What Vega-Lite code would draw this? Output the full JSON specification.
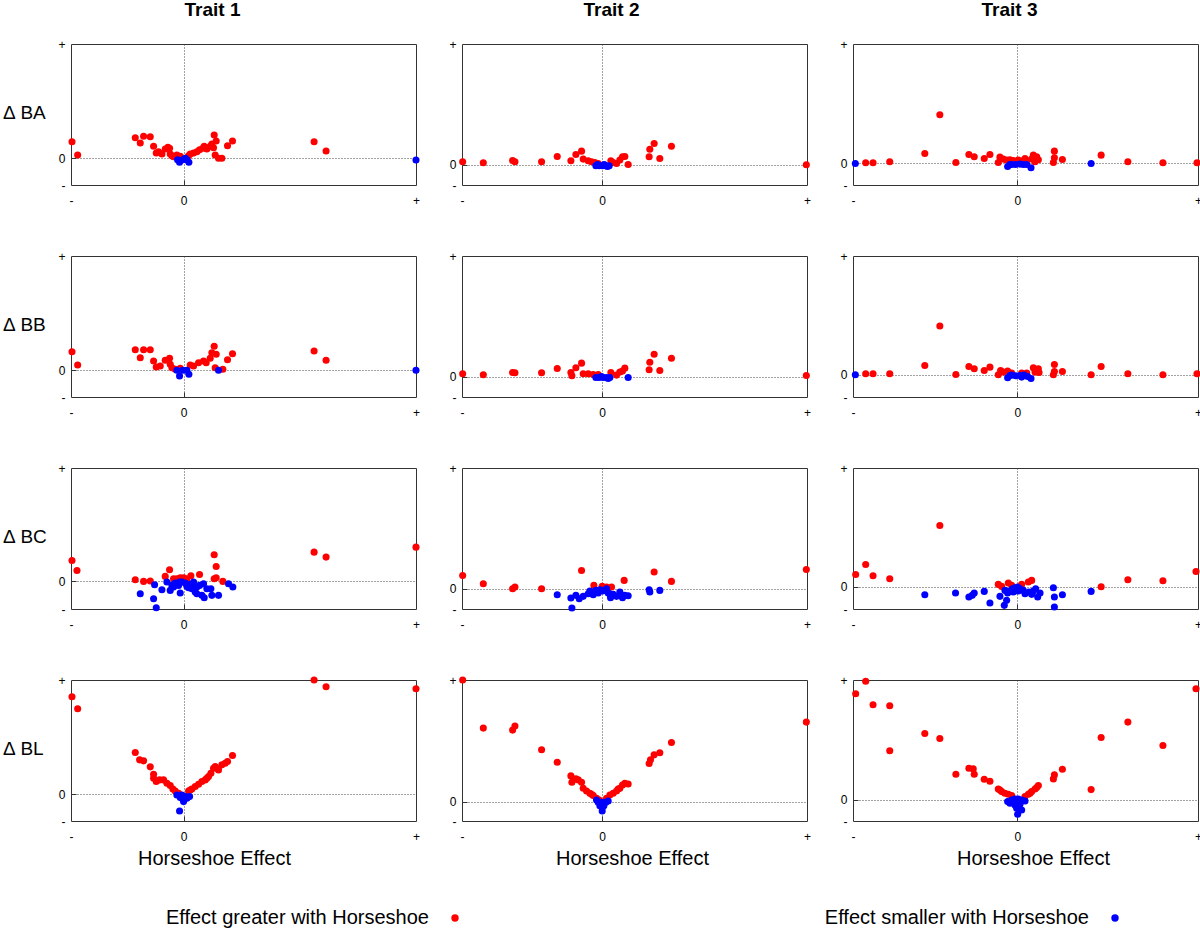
{
"$schema": "https://vega.github.io/schema/vega-lite/v6.json",
"background": "white",
"padding": {"left": 2, "top": 0, "right": 0, "bottom": 4},
"datasets": {
"A1": [
{"x":-3.35,"y":0.50,"g":"G"},{"x":-3.18,"y":0.10,"g":"G"},{"x":-1.45,"y":0.62,"g":"G"},{"x":-1.30,"y":0.46,"g":"G"},{"x":-1.20,"y":0.66,"g":"G"},{"x":-1.00,"y":0.65,"g":"G"},{"x":-0.90,"y":0.36,"g":"G"},{"x":-0.82,"y":0.16,"g":"G"},{"x":-0.75,"y":0.20,"g":"G"},{"x":-0.65,"y":0.13,"g":"G"},{"x":-0.55,"y":0.28,"g":"G"},{"x":-0.47,"y":0.33,"g":"G"},{"x":-0.42,"y":0.30,"g":"G"},{"x":-0.40,"y":0.13,"g":"G"},{"x":-0.35,"y":0.08,"g":"G"},{"x":-0.30,"y":0.05,"g":"G"},{"x":-0.20,"y":0.10,"g":"G"},{"x":-0.10,"y":0.06,"g":"G"},{"x":0.15,"y":0.08,"g":"G"},{"x":0.20,"y":0.13,"g":"G"},{"x":0.30,"y":0.16,"g":"G"},{"x":0.40,"y":0.20,"g":"G"},{"x":0.48,"y":0.26,"g":"G"},{"x":0.58,"y":0.30,"g":"G"},{"x":0.62,"y":0.36,"g":"G"},{"x":0.70,"y":0.28,"g":"G"},{"x":0.80,"y":0.36,"g":"G"},{"x":0.85,"y":0.43,"g":"G"},{"x":0.90,"y":0.32,"g":"G"},{"x":0.92,"y":0.70,"g":"G"},{"x":0.98,"y":0.52,"g":"G"},{"x":0.95,"y":0.10,"g":"G"},{"x":1.05,"y":0.00,"g":"G"},{"x":1.15,"y":0.00,"g":"G"},{"x":1.32,"y":0.38,"g":"G"},{"x":1.47,"y":0.52,"g":"G"},{"x":3.92,"y":0.50,"g":"G"},{"x":4.28,"y":0.22,"g":"G"},
{"x":-0.18,"y":-0.04,"g":"S"},{"x":-0.12,"y":-0.12,"g":"S"},{"x":-0.02,"y":-0.04,"g":"S"},{"x":0.05,"y":0.00,"g":"S"},{"x":0.10,"y":-0.04,"g":"S"},{"x":0.16,"y":-0.12,"g":"S"},{"x":6.98,"y":-0.05,"g":"S"}
],
"B1": [
{"x":-3.35,"y":0.55,"g":"G"},{"x":-3.18,"y":0.15,"g":"G"},{"x":-1.45,"y":0.61,"g":"G"},{"x":-1.30,"y":0.37,"g":"G"},{"x":-1.20,"y":0.61,"g":"G"},{"x":-1.00,"y":0.61,"g":"G"},{"x":-0.90,"y":0.27,"g":"G"},{"x":-0.82,"y":0.09,"g":"G"},{"x":-0.70,"y":0.12,"g":"G"},{"x":-0.55,"y":0.29,"g":"G"},{"x":-0.42,"y":0.35,"g":"G"},{"x":-0.40,"y":0.17,"g":"G"},{"x":-0.35,"y":0.07,"g":"G"},{"x":-0.25,"y":0.02,"g":"G"},{"x":-0.10,"y":0.05,"g":"G"},{"x":0.20,"y":0.15,"g":"G"},{"x":0.30,"y":0.12,"g":"G"},{"x":0.45,"y":0.22,"g":"G"},{"x":0.60,"y":0.27,"g":"G"},{"x":0.68,"y":0.22,"g":"G"},{"x":0.80,"y":0.35,"g":"G"},{"x":0.85,"y":0.52,"g":"G"},{"x":0.92,"y":0.71,"g":"G"},{"x":0.98,"y":0.47,"g":"G"},{"x":0.95,"y":0.07,"g":"G"},{"x":1.18,"y":0.02,"g":"G"},{"x":1.32,"y":0.31,"g":"G"},{"x":1.47,"y":0.49,"g":"G"},{"x":3.92,"y":0.57,"g":"G"},{"x":4.28,"y":0.29,"g":"G"},
{"x":-0.20,"y":-0.01,"g":"S"},{"x":-0.12,"y":-0.18,"g":"S"},{"x":-0.02,"y":-0.01,"g":"S"},{"x":0.10,"y":-0.01,"g":"S"},{"x":0.16,"y":-0.13,"g":"S"},{"x":1.05,"y":-0.01,"g":"S"},{"x":6.98,"y":-0.01,"g":"S"}
],
"C1": [
{"x":-3.35,"y":0.63,"g":"G"},{"x":-3.20,"y":0.33,"g":"G"},{"x":-1.45,"y":0.05,"g":"G"},{"x":-1.20,"y":0.00,"g":"G"},{"x":-1.00,"y":0.01,"g":"G"},{"x":-0.55,"y":0.15,"g":"G"},{"x":-0.42,"y":0.35,"g":"G"},{"x":-0.30,"y":0.08,"g":"G"},{"x":-0.10,"y":0.11,"g":"G"},{"x":0.22,"y":0.17,"g":"G"},{"x":0.48,"y":0.21,"g":"G"},{"x":0.92,"y":0.80,"g":"G"},{"x":0.98,"y":0.45,"g":"G"},{"x":0.92,"y":0.08,"g":"G"},{"x":0.98,"y":0.11,"g":"G"},{"x":1.18,"y":0.00,"g":"G"},{"x":3.92,"y":0.88,"g":"G"},{"x":4.28,"y":0.73,"g":"G"},{"x":6.98,"y":1.03,"g":"G"},{"x":-0.20,"y":0.08,"g":"G"},{"x":0.10,"y":0.08,"g":"G"},{"x":0.00,"y":0.11,"g":"G"},
{"x":-1.30,"y":-0.37,"g":"S"},{"x":-0.90,"y":-0.52,"g":"S"},{"x":-0.82,"y":-0.79,"g":"S"},{"x":-0.87,"y":-0.10,"g":"S"},{"x":-0.65,"y":-0.25,"g":"S"},{"x":-0.50,"y":-0.02,"g":"S"},{"x":-0.40,"y":-0.27,"g":"S"},{"x":-0.35,"y":-0.12,"g":"S"},{"x":-0.25,"y":-0.05,"g":"S"},{"x":-0.15,"y":-0.12,"g":"S"},{"x":-0.10,"y":-0.35,"g":"S"},{"x":-0.05,"y":-0.02,"g":"S"},{"x":0.05,"y":-0.05,"g":"S"},{"x":0.10,"y":-0.15,"g":"S"},{"x":0.15,"y":-0.19,"g":"S"},{"x":0.20,"y":-0.09,"g":"S"},{"x":0.25,"y":-0.22,"g":"S"},{"x":0.30,"y":-0.02,"g":"S"},{"x":0.35,"y":-0.32,"g":"S"},{"x":0.40,"y":-0.17,"g":"S"},{"x":0.48,"y":-0.12,"g":"S"},{"x":0.55,"y":-0.42,"g":"S"},{"x":0.60,"y":-0.07,"g":"S"},{"x":0.62,"y":-0.49,"g":"S"},{"x":0.70,"y":-0.22,"g":"S"},{"x":0.82,"y":-0.22,"g":"S"},{"x":0.85,"y":-0.42,"g":"S"},{"x":1.05,"y":-0.42,"g":"S"},{"x":1.35,"y":-0.07,"g":"S"},{"x":1.48,"y":-0.17,"g":"S"},{"x":-0.12,"y":-0.02,"g":"S"},{"x":-0.30,"y":-0.17,"g":"S"},{"x":0.40,"y":-0.37,"g":"S"},{"x":0.25,"y":-0.12,"g":"S"}
],
"D1": [
{"x":-3.35,"y":2.92,"g":"G"},{"x":-3.18,"y":2.56,"g":"G"},{"x":-1.45,"y":1.25,"g":"G"},{"x":-1.32,"y":1.03,"g":"G"},{"x":-1.20,"y":1.00,"g":"G"},{"x":-1.00,"y":0.82,"g":"G"},{"x":-0.90,"y":0.60,"g":"G"},{"x":-0.82,"y":0.38,"g":"G"},{"x":-0.72,"y":0.43,"g":"G"},{"x":-0.60,"y":0.43,"g":"G"},{"x":-0.50,"y":0.33,"g":"G"},{"x":-0.40,"y":0.26,"g":"G"},{"x":-0.32,"y":0.16,"g":"G"},{"x":-0.25,"y":0.10,"g":"G"},{"x":-0.15,"y":0.03,"g":"G"},{"x":0.15,"y":0.10,"g":"G"},{"x":0.25,"y":0.16,"g":"G"},{"x":0.35,"y":0.23,"g":"G"},{"x":0.45,"y":0.30,"g":"G"},{"x":0.55,"y":0.38,"g":"G"},{"x":0.65,"y":0.43,"g":"G"},{"x":0.75,"y":0.53,"g":"G"},{"x":0.82,"y":0.63,"g":"G"},{"x":0.90,"y":0.78,"g":"G"},{"x":0.95,"y":0.83,"g":"G"},{"x":1.05,"y":0.73,"g":"G"},{"x":1.15,"y":0.88,"g":"G"},{"x":1.25,"y":0.93,"g":"G"},{"x":1.32,"y":0.98,"g":"G"},{"x":1.47,"y":1.16,"g":"G"},{"x":3.92,"y":3.42,"g":"G"},{"x":4.28,"y":3.22,"g":"G"},{"x":6.98,"y":3.16,"g":"G"},{"x":-0.90,"y":0.48,"g":"G"},{"x":0.20,"y":0.13,"g":"G"},{"x":0.70,"y":0.48,"g":"G"},{"x":1.00,"y":0.78,"g":"G"},
{"x":-0.20,"y":-0.02,"g":"S"},{"x":-0.10,"y":-0.10,"g":"S"},{"x":0.00,"y":-0.22,"g":"S"},{"x":0.10,"y":-0.12,"g":"S"},{"x":0.18,"y":-0.07,"g":"S"},{"x":-0.12,"y":-0.50,"g":"S"},{"x":-0.05,"y":-0.02,"g":"S"},{"x":0.05,"y":-0.07,"g":"S"}
],
"A2": [
{"x":-4.19,"y":0.09,"g":"G"},{"x":-3.57,"y":0.06,"g":"G"},{"x":-2.69,"y":0.13,"g":"G"},{"x":-2.62,"y":0.09,"g":"G"},{"x":-1.82,"y":0.09,"g":"G"},{"x":-1.35,"y":0.25,"g":"G"},{"x":-0.94,"y":0.12,"g":"G"},{"x":-0.79,"y":0.31,"g":"G"},{"x":-0.62,"y":0.41,"g":"G"},{"x":-0.57,"y":0.17,"g":"G"},{"x":-0.42,"y":0.12,"g":"G"},{"x":-0.32,"y":0.09,"g":"G"},{"x":-0.22,"y":0.07,"g":"G"},{"x":-0.12,"y":0.04,"g":"G"},{"x":0.26,"y":0.12,"g":"G"},{"x":0.33,"y":0.07,"g":"G"},{"x":0.43,"y":0.04,"g":"G"},{"x":0.53,"y":0.14,"g":"G"},{"x":0.61,"y":0.24,"g":"G"},{"x":0.68,"y":0.25,"g":"G"},{"x":0.78,"y":0.01,"g":"G"},{"x":1.41,"y":0.24,"g":"G"},{"x":1.43,"y":0.47,"g":"G"},{"x":1.56,"y":0.64,"g":"G"},{"x":1.73,"y":0.19,"g":"G"},{"x":2.08,"y":0.56,"g":"G"},{"x":6.13,"y":0.00,"g":"G"},
{"x":-0.19,"y":-0.03,"g":"S"},{"x":-0.09,"y":-0.03,"g":"S"},{"x":0.01,"y":-0.03,"g":"S"},{"x":0.11,"y":-0.03,"g":"S"},{"x":0.21,"y":-0.03,"g":"S"},{"x":-0.14,"y":0.01,"g":"S"},{"x":0.06,"y":0.01,"g":"S"},{"x":0.16,"y":-0.05,"g":"S"}
],
"B2": [
{"x":-4.19,"y":0.09,"g":"G"},{"x":-3.57,"y":0.06,"g":"G"},{"x":-2.69,"y":0.13,"g":"G"},{"x":-2.62,"y":0.12,"g":"G"},{"x":-1.82,"y":0.12,"g":"G"},{"x":-1.35,"y":0.25,"g":"G"},{"x":-0.94,"y":0.13,"g":"G"},{"x":-0.91,"y":0.03,"g":"G"},{"x":-0.79,"y":0.27,"g":"G"},{"x":-0.62,"y":0.41,"g":"G"},{"x":-0.57,"y":0.09,"g":"G"},{"x":-0.42,"y":0.09,"g":"G"},{"x":-0.27,"y":0.07,"g":"G"},{"x":-0.12,"y":0.07,"g":"G"},{"x":0.26,"y":0.13,"g":"G"},{"x":0.43,"y":0.05,"g":"G"},{"x":0.53,"y":0.14,"g":"G"},{"x":0.61,"y":0.17,"g":"G"},{"x":0.68,"y":0.26,"g":"G"},{"x":1.41,"y":0.21,"g":"G"},{"x":1.43,"y":0.44,"g":"G"},{"x":1.56,"y":0.68,"g":"G"},{"x":1.73,"y":0.19,"g":"G"},{"x":2.08,"y":0.56,"g":"G"},{"x":6.13,"y":0.04,"g":"G"},
{"x":-0.19,"y":-0.02,"g":"S"},{"x":-0.09,"y":-0.02,"g":"S"},{"x":0.03,"y":-0.02,"g":"S"},{"x":0.13,"y":-0.02,"g":"S"},{"x":0.23,"y":-0.02,"g":"S"},{"x":0.78,"y":-0.02,"g":"S"},{"x":-0.02,"y":0.01,"g":"S"},{"x":0.18,"y":-0.05,"g":"S"}
],
"C2": [
{"x":-4.19,"y":0.40,"g":"G"},{"x":-3.57,"y":0.15,"g":"G"},{"x":-2.69,"y":0.00,"g":"G"},{"x":-2.62,"y":0.05,"g":"G"},{"x":-1.82,"y":0.00,"g":"G"},{"x":-0.62,"y":0.55,"g":"G"},{"x":-0.25,"y":0.10,"g":"G"},{"x":0.28,"y":0.05,"g":"G"},{"x":0.66,"y":0.25,"g":"G"},{"x":1.56,"y":0.50,"g":"G"},{"x":2.08,"y":0.22,"g":"G"},{"x":6.13,"y":0.58,"g":"G"},{"x":0.00,"y":0.07,"g":"G"},{"x":0.13,"y":0.05,"g":"G"},
{"x":-1.35,"y":-0.18,"g":"S"},{"x":-0.94,"y":-0.28,"g":"S"},{"x":-0.91,"y":-0.58,"g":"S"},{"x":-0.79,"y":-0.20,"g":"S"},{"x":-0.69,"y":-0.30,"g":"S"},{"x":-0.57,"y":-0.23,"g":"S"},{"x":-0.42,"y":-0.15,"g":"S"},{"x":-0.32,"y":-0.10,"g":"S"},{"x":-0.27,"y":-0.18,"g":"S"},{"x":-0.19,"y":-0.05,"g":"S"},{"x":-0.12,"y":-0.13,"g":"S"},{"x":-0.07,"y":-0.03,"g":"S"},{"x":0.01,"y":-0.07,"g":"S"},{"x":0.08,"y":-0.05,"g":"S"},{"x":0.18,"y":-0.13,"g":"S"},{"x":0.25,"y":-0.27,"g":"S"},{"x":0.33,"y":-0.17,"g":"S"},{"x":0.43,"y":-0.23,"g":"S"},{"x":0.53,"y":-0.10,"g":"S"},{"x":0.61,"y":-0.27,"g":"S"},{"x":0.68,"y":-0.20,"g":"S"},{"x":0.78,"y":-0.21,"g":"S"},{"x":1.41,"y":-0.03,"g":"S"},{"x":1.43,"y":-0.10,"g":"S"},{"x":1.73,"y":-0.05,"g":"S"},{"x":-0.17,"y":-0.10,"g":"S"},{"x":0.13,"y":0.00,"g":"S"},{"x":0.23,"y":-0.15,"g":"S"},{"x":-0.37,"y":-0.07,"g":"S"}
],
"D2": [
{"x":-4.19,"y":3.64,"g":"G"},{"x":-3.57,"y":2.20,"g":"G"},{"x":-2.69,"y":2.14,"g":"G"},{"x":-2.62,"y":2.26,"g":"G"},{"x":-1.82,"y":1.55,"g":"G"},{"x":-1.35,"y":1.18,"g":"G"},{"x":-0.94,"y":0.77,"g":"G"},{"x":-0.91,"y":0.58,"g":"G"},{"x":-0.79,"y":0.68,"g":"G"},{"x":-0.62,"y":0.58,"g":"G"},{"x":-0.57,"y":0.40,"g":"G"},{"x":-0.47,"y":0.32,"g":"G"},{"x":-0.37,"y":0.25,"g":"G"},{"x":-0.27,"y":0.18,"g":"G"},{"x":-0.17,"y":0.10,"g":"G"},{"x":-0.09,"y":0.05,"g":"G"},{"x":0.13,"y":0.10,"g":"G"},{"x":0.23,"y":0.20,"g":"G"},{"x":0.33,"y":0.25,"g":"G"},{"x":0.43,"y":0.32,"g":"G"},{"x":0.53,"y":0.40,"g":"G"},{"x":0.61,"y":0.50,"g":"G"},{"x":0.68,"y":0.55,"g":"G"},{"x":0.78,"y":0.53,"g":"G"},{"x":1.41,"y":1.14,"g":"G"},{"x":1.45,"y":1.25,"g":"G"},{"x":1.56,"y":1.40,"g":"G"},{"x":1.73,"y":1.46,"g":"G"},{"x":2.08,"y":1.77,"g":"G"},{"x":6.13,"y":2.38,"g":"G"},{"x":-0.72,"y":0.65,"g":"G"},{"x":-0.32,"y":0.22,"g":"G"},{"x":0.48,"y":0.38,"g":"G"},
{"x":-0.12,"y":-0.02,"g":"S"},{"x":0.00,"y":-0.02,"g":"S"},{"x":0.11,"y":-0.02,"g":"S"},{"x":-0.07,"y":-0.12,"g":"S"},{"x":0.05,"y":-0.12,"g":"S"},{"x":0.00,"y":-0.28,"g":"S"},{"x":-0.17,"y":0.05,"g":"S"},{"x":0.18,"y":0.02,"g":"S"},{"x":0.00,"y":-0.18,"g":"S"}
],
"A3": [
{"x":-4.54,"y":0.02,"g":"G"},{"x":-4.32,"y":0.02,"g":"G"},{"x":-3.82,"y":0.05,"g":"G"},{"x":-2.77,"y":0.30,"g":"G"},{"x":-2.32,"y":1.47,"g":"G"},{"x":-1.84,"y":0.03,"g":"G"},{"x":-1.45,"y":0.27,"g":"G"},{"x":-1.29,"y":0.20,"g":"G"},{"x":-0.99,"y":0.15,"g":"G"},{"x":-0.82,"y":0.27,"g":"G"},{"x":-0.52,"y":0.19,"g":"G"},{"x":-0.57,"y":0.03,"g":"G"},{"x":-0.42,"y":0.13,"g":"G"},{"x":-0.32,"y":0.10,"g":"G"},{"x":-0.22,"y":0.11,"g":"G"},{"x":-0.12,"y":0.09,"g":"G"},{"x":0.13,"y":0.07,"g":"G"},{"x":0.28,"y":0.09,"g":"G"},{"x":0.43,"y":0.13,"g":"G"},{"x":0.48,"y":0.25,"g":"G"},{"x":0.58,"y":0.20,"g":"G"},{"x":0.63,"y":0.11,"g":"G"},{"x":0.53,"y":0.05,"g":"G"},{"x":1.11,"y":0.37,"g":"G"},{"x":1.11,"y":0.17,"g":"G"},{"x":1.08,"y":0.03,"g":"G"},{"x":1.35,"y":0.12,"g":"G"},{"x":2.51,"y":0.25,"g":"G"},{"x":3.31,"y":0.05,"g":"G"},{"x":4.36,"y":0.02,"g":"G"},{"x":5.38,"y":0.02,"g":"G"},{"x":0.23,"y":0.15,"g":"G"},{"x":0.03,"y":0.10,"g":"G"},
{"x":-4.85,"y":0.00,"g":"S"},{"x":-0.29,"y":-0.09,"g":"S"},{"x":-0.17,"y":-0.03,"g":"S"},{"x":-0.05,"y":-0.03,"g":"S"},{"x":0.08,"y":-0.02,"g":"S"},{"x":0.18,"y":-0.03,"g":"S"},{"x":0.28,"y":-0.03,"g":"S"},{"x":0.41,"y":-0.13,"g":"S"},{"x":2.21,"y":0.00,"g":"S"},{"x":-0.22,"y":-0.03,"g":"S"}
],
"B3": [
{"x":-4.54,"y":0.03,"g":"G"},{"x":-4.32,"y":0.03,"g":"G"},{"x":-3.82,"y":0.03,"g":"G"},{"x":-2.77,"y":0.28,"g":"G"},{"x":-2.32,"y":1.47,"g":"G"},{"x":-1.84,"y":0.01,"g":"G"},{"x":-1.45,"y":0.25,"g":"G"},{"x":-1.29,"y":0.18,"g":"G"},{"x":-0.99,"y":0.13,"g":"G"},{"x":-0.82,"y":0.23,"g":"G"},{"x":-0.57,"y":0.00,"g":"G"},{"x":-0.50,"y":0.13,"g":"G"},{"x":-0.42,"y":0.08,"g":"G"},{"x":-0.29,"y":0.11,"g":"G"},{"x":-0.17,"y":0.05,"g":"G"},{"x":0.13,"y":0.05,"g":"G"},{"x":0.28,"y":0.05,"g":"G"},{"x":0.48,"y":0.21,"g":"G"},{"x":0.53,"y":0.08,"g":"G"},{"x":0.63,"y":0.18,"g":"G"},{"x":0.65,"y":0.07,"g":"G"},{"x":1.11,"y":0.31,"g":"G"},{"x":1.11,"y":0.10,"g":"G"},{"x":1.08,"y":0.00,"g":"G"},{"x":1.35,"y":0.10,"g":"G"},{"x":2.21,"y":0.00,"g":"G"},{"x":2.51,"y":0.25,"g":"G"},{"x":3.31,"y":0.03,"g":"G"},{"x":4.36,"y":0.00,"g":"G"},{"x":5.38,"y":0.03,"g":"G"},
{"x":-4.85,"y":0.00,"g":"S"},{"x":-0.29,"y":-0.09,"g":"S"},{"x":-0.17,"y":-0.01,"g":"S"},{"x":-0.05,"y":-0.03,"g":"S"},{"x":0.08,"y":-0.02,"g":"S"},{"x":0.20,"y":-0.01,"g":"S"},{"x":0.31,"y":-0.05,"g":"S"},{"x":0.41,"y":-0.11,"g":"S"},{"x":-0.22,"y":-0.02,"g":"S"},{"x":0.13,"y":-0.07,"g":"S"}
],
"C3": [
{"x":-4.84,"y":0.37,"g":"G"},{"x":-4.54,"y":0.67,"g":"G"},{"x":-4.32,"y":0.33,"g":"G"},{"x":-3.82,"y":0.24,"g":"G"},{"x":-2.32,"y":1.84,"g":"G"},{"x":-0.57,"y":0.07,"g":"G"},{"x":-0.47,"y":0.01,"g":"G"},{"x":-0.27,"y":0.11,"g":"G"},{"x":0.33,"y":0.14,"g":"G"},{"x":0.43,"y":0.19,"g":"G"},{"x":2.51,"y":0.00,"g":"G"},{"x":3.31,"y":0.21,"g":"G"},{"x":4.36,"y":0.18,"g":"G"},{"x":5.35,"y":0.46,"g":"G"},{"x":-0.17,"y":0.04,"g":"G"},{"x":0.13,"y":0.07,"g":"G"},
{"x":-2.77,"y":-0.24,"g":"S"},{"x":-1.85,"y":-0.19,"g":"S"},{"x":-1.45,"y":-0.31,"g":"S"},{"x":-1.35,"y":-0.26,"g":"S"},{"x":-1.29,"y":-0.19,"g":"S"},{"x":-0.99,"y":-0.14,"g":"S"},{"x":-0.82,"y":-0.49,"g":"S"},{"x":-0.52,"y":-0.29,"g":"S"},{"x":-0.39,"y":-0.56,"g":"S"},{"x":-0.32,"y":-0.41,"g":"S"},{"x":-0.29,"y":-0.19,"g":"S"},{"x":-0.22,"y":-0.13,"g":"S"},{"x":-0.15,"y":-0.06,"g":"S"},{"x":-0.07,"y":-0.03,"g":"S"},{"x":0.01,"y":-0.01,"g":"S"},{"x":0.08,"y":-0.06,"g":"S"},{"x":0.18,"y":-0.11,"g":"S"},{"x":0.23,"y":-0.21,"g":"S"},{"x":0.35,"y":-0.16,"g":"S"},{"x":0.43,"y":-0.23,"g":"S"},{"x":0.48,"y":-0.13,"g":"S"},{"x":0.55,"y":-0.06,"g":"S"},{"x":0.61,"y":-0.31,"g":"S"},{"x":0.68,"y":-0.19,"g":"S"},{"x":1.08,"y":-0.03,"g":"S"},{"x":1.11,"y":-0.31,"g":"S"},{"x":1.11,"y":-0.61,"g":"S"},{"x":1.35,"y":-0.24,"g":"S"},{"x":2.21,"y":-0.14,"g":"S"},{"x":-0.37,"y":-0.11,"g":"S"},{"x":-0.12,"y":-0.16,"g":"S"},{"x":0.03,"y":-0.13,"g":"S"}
],
"D3": [
{"x":-4.84,"y":3.18,"g":"G"},{"x":-4.54,"y":3.55,"g":"G"},{"x":-4.32,"y":2.85,"g":"G"},{"x":-3.82,"y":2.82,"g":"G"},{"x":-3.82,"y":1.47,"g":"G"},{"x":-2.77,"y":1.99,"g":"G"},{"x":-2.32,"y":1.84,"g":"G"},{"x":-1.84,"y":0.77,"g":"G"},{"x":-1.45,"y":0.95,"g":"G"},{"x":-1.32,"y":0.93,"g":"G"},{"x":-1.29,"y":0.77,"g":"G"},{"x":-0.99,"y":0.62,"g":"G"},{"x":-0.82,"y":0.56,"g":"G"},{"x":-0.57,"y":0.33,"g":"G"},{"x":-0.47,"y":0.25,"g":"G"},{"x":-0.37,"y":0.20,"g":"G"},{"x":-0.27,"y":0.17,"g":"G"},{"x":-0.17,"y":0.13,"g":"G"},{"x":0.23,"y":0.10,"g":"G"},{"x":0.33,"y":0.17,"g":"G"},{"x":0.43,"y":0.25,"g":"G"},{"x":0.53,"y":0.33,"g":"G"},{"x":0.63,"y":0.43,"g":"G"},{"x":1.08,"y":0.63,"g":"G"},{"x":1.11,"y":0.75,"g":"G"},{"x":1.35,"y":0.92,"g":"G"},{"x":2.21,"y":0.31,"g":"G"},{"x":2.51,"y":1.87,"g":"G"},{"x":3.31,"y":2.33,"g":"G"},{"x":4.36,"y":1.63,"g":"G"},{"x":5.35,"y":3.33,"g":"G"},{"x":-0.52,"y":0.30,"g":"G"},{"x":0.38,"y":0.20,"g":"G"},{"x":0.58,"y":0.37,"g":"G"},
{"x":-0.29,"y":-0.05,"g":"S"},{"x":-0.17,"y":0.00,"g":"S"},{"x":-0.07,"y":0.03,"g":"S"},{"x":0.03,"y":0.03,"g":"S"},{"x":0.13,"y":0.00,"g":"S"},{"x":0.23,"y":-0.03,"g":"S"},{"x":-0.22,"y":-0.10,"g":"S"},{"x":-0.07,"y":-0.15,"g":"S"},{"x":0.08,"y":-0.13,"g":"S"},{"x":-0.02,"y":-0.25,"g":"S"},{"x":0.01,"y":-0.43,"g":"S"},{"x":0.13,"y":-0.30,"g":"S"},{"x":-0.12,"y":-0.05,"g":"S"}
]
},
"columns": 3,
"spacing": {"row": 71, "column": 46},
"bounds": "flush",
"concat": [
{"data":{"name":"A1"},"width":345,"height":141,"title":{"text":"Trait 1","dx":-31},
 "mark":{"type":"circle","size":50,"opacity":1},
 "encoding":{
  "x":{"field":"x","type":"quantitative","scale":{"domain":[-3.38,6.98],"nice":false,"zero":false},"axis":{"values":[-3.38,0,6.98],"title":null,"labelExpr":"datum.value < 0 ? '-' : (datum.value > 0 ? '+' : '0')","gridOpacity":{"condition":{"test":"datum.value === 0","value":1},"value":0},"tickOpacity":{"condition":{"test":"datum.value === 0","value":1},"value":0}}},
  "y":{"field":"y","type":"quantitative","scale":{"domain":[-0.80,3.43],"nice":false,"zero":false},"axis":{"values":[-0.80,0,3.43],"title":"∆ BA","labelExpr":"datum.value < 0 ? '-' : (datum.value > 0 ? '+' : '0')","gridOpacity":{"condition":{"test":"datum.value === 0","value":1},"value":0},"tickOpacity":{"condition":{"test":"datum.value === 0","value":1},"value":0}}},
  "color":{"field":"g","type":"nominal","scale":{"domain":["G","S"],"range":["#ff0000","#0000ff"]},
   "legend":{"orient":"none","legendX":374,"legendY":864,"direction":"horizontal","title":null,"labelFontSize":20,"labelColor":"#000","labelAlign":"right","labelOffset":-36,"symbolType":"circle","symbolSize":55,"symbolStrokeWidth":0,"symbolOpacity":1,"columnPadding":365,"labelLimit":500,"labelExpr":"datum.label == 'G' ? 'Effect greater with Horseshoe' : 'Effect smaller with Horseshoe'"}}
 }},
{"data":{"name":"A2"},"width":345,"height":141,"title":{"text":"Trait 2","dx":-23},
 "mark":{"type":"circle","size":50,"opacity":1},
 "encoding":{
  "x":{"field":"x","type":"quantitative","scale":{"domain":[-4.21,6.15],"nice":false,"zero":false},"axis":{"values":[-4.21,0,6.15],"title":null,"labelExpr":"datum.value < 0 ? '-' : (datum.value > 0 ? '+' : '0')","gridOpacity":{"condition":{"test":"datum.value === 0","value":1},"value":0},"tickOpacity":{"condition":{"test":"datum.value === 0","value":1},"value":0}}},
  "y":{"field":"y","type":"quantitative","scale":{"domain":[-0.61,3.64],"nice":false,"zero":false},"axis":{"values":[-0.61,0,3.64],"title":null,"labelExpr":"datum.value < 0 ? '-' : (datum.value > 0 ? '+' : '0')","gridOpacity":{"condition":{"test":"datum.value === 0","value":1},"value":0},"tickOpacity":{"condition":{"test":"datum.value === 0","value":1},"value":0}}},
  "color":{"field":"g","type":"nominal","scale":{"domain":["G","S"],"range":["#ff0000","#0000ff"]}}
 }},
{"data":{"name":"A3"},"width":345,"height":141,"title":{"text":"Trait 3","dx":-16},
 "mark":{"type":"circle","size":50,"opacity":1},
 "encoding":{
  "x":{"field":"x","type":"quantitative","scale":{"domain":[-4.92,5.41],"nice":false,"zero":false},"axis":{"values":[-4.92,0,5.41],"title":null,"labelExpr":"datum.value < 0 ? '-' : (datum.value > 0 ? '+' : '0')","gridOpacity":{"condition":{"test":"datum.value === 0","value":1},"value":0},"tickOpacity":{"condition":{"test":"datum.value === 0","value":1},"value":0}}},
  "y":{"field":"y","type":"quantitative","scale":{"domain":[-0.65,3.60],"nice":false,"zero":false},"axis":{"values":[-0.65,0,3.60],"title":null,"labelExpr":"datum.value < 0 ? '-' : (datum.value > 0 ? '+' : '0')","gridOpacity":{"condition":{"test":"datum.value === 0","value":1},"value":0},"tickOpacity":{"condition":{"test":"datum.value === 0","value":1},"value":0}}},
  "color":{"field":"g","type":"nominal","scale":{"domain":["G","S"],"range":["#ff0000","#0000ff"]}}
 }},
{"data":{"name":"B1"},"width":345,"height":141,
 "mark":{"type":"circle","size":50,"opacity":1},
 "encoding":{
  "x":{"field":"x","type":"quantitative","scale":{"domain":[-3.38,6.98],"nice":false,"zero":false},"axis":{"values":[-3.38,0,6.98],"title":null,"labelExpr":"datum.value < 0 ? '-' : (datum.value > 0 ? '+' : '0')","gridOpacity":{"condition":{"test":"datum.value === 0","value":1},"value":0},"tickOpacity":{"condition":{"test":"datum.value === 0","value":1},"value":0}}},
  "y":{"field":"y","type":"quantitative","scale":{"domain":[-0.81,3.42],"nice":false,"zero":false},"axis":{"values":[-0.81,0,3.42],"title":"∆ BB","labelExpr":"datum.value < 0 ? '-' : (datum.value > 0 ? '+' : '0')","gridOpacity":{"condition":{"test":"datum.value === 0","value":1},"value":0},"tickOpacity":{"condition":{"test":"datum.value === 0","value":1},"value":0}}},
  "color":{"field":"g","type":"nominal","scale":{"domain":["G","S"],"range":["#ff0000","#0000ff"]}}
 }},
{"data":{"name":"B2"},"width":345,"height":141,
 "mark":{"type":"circle","size":50,"opacity":1},
 "encoding":{
  "x":{"field":"x","type":"quantitative","scale":{"domain":[-4.21,6.15],"nice":false,"zero":false},"axis":{"values":[-4.21,0,6.15],"title":null,"labelExpr":"datum.value < 0 ? '-' : (datum.value > 0 ? '+' : '0')","gridOpacity":{"condition":{"test":"datum.value === 0","value":1},"value":0},"tickOpacity":{"condition":{"test":"datum.value === 0","value":1},"value":0}}},
  "y":{"field":"y","type":"quantitative","scale":{"domain":[-0.61,3.64],"nice":false,"zero":false},"axis":{"values":[-0.61,0,3.64],"title":null,"labelExpr":"datum.value < 0 ? '-' : (datum.value > 0 ? '+' : '0')","gridOpacity":{"condition":{"test":"datum.value === 0","value":1},"value":0},"tickOpacity":{"condition":{"test":"datum.value === 0","value":1},"value":0}}},
  "color":{"field":"g","type":"nominal","scale":{"domain":["G","S"],"range":["#ff0000","#0000ff"]}}
 }},
{"data":{"name":"B3"},"width":345,"height":141,
 "mark":{"type":"circle","size":50,"opacity":1},
 "encoding":{
  "x":{"field":"x","type":"quantitative","scale":{"domain":[-4.92,5.41],"nice":false,"zero":false},"axis":{"values":[-4.92,0,5.41],"title":null,"labelExpr":"datum.value < 0 ? '-' : (datum.value > 0 ? '+' : '0')","gridOpacity":{"condition":{"test":"datum.value === 0","value":1},"value":0},"tickOpacity":{"condition":{"test":"datum.value === 0","value":1},"value":0}}},
  "y":{"field":"y","type":"quantitative","scale":{"domain":[-0.67,3.58],"nice":false,"zero":false},"axis":{"values":[-0.67,0,3.58],"title":null,"labelExpr":"datum.value < 0 ? '-' : (datum.value > 0 ? '+' : '0')","gridOpacity":{"condition":{"test":"datum.value === 0","value":1},"value":0},"tickOpacity":{"condition":{"test":"datum.value === 0","value":1},"value":0}}},
  "color":{"field":"g","type":"nominal","scale":{"domain":["G","S"],"range":["#ff0000","#0000ff"]}}
 }},
{"data":{"name":"C1"},"width":345,"height":141,
 "mark":{"type":"circle","size":50,"opacity":1},
 "encoding":{
  "x":{"field":"x","type":"quantitative","scale":{"domain":[-3.38,6.98],"nice":false,"zero":false},"axis":{"values":[-3.38,0,6.98],"title":null,"labelExpr":"datum.value < 0 ? '-' : (datum.value > 0 ? '+' : '0')","gridOpacity":{"condition":{"test":"datum.value === 0","value":1},"value":0},"tickOpacity":{"condition":{"test":"datum.value === 0","value":1},"value":0}}},
  "y":{"field":"y","type":"quantitative","scale":{"domain":[-0.83,3.41],"nice":false,"zero":false},"axis":{"values":[-0.83,0,3.41],"title":"∆ BC","labelExpr":"datum.value < 0 ? '-' : (datum.value > 0 ? '+' : '0')","gridOpacity":{"condition":{"test":"datum.value === 0","value":1},"value":0},"tickOpacity":{"condition":{"test":"datum.value === 0","value":1},"value":0}}},
  "color":{"field":"g","type":"nominal","scale":{"domain":["G","S"],"range":["#ff0000","#0000ff"]}}
 }},
{"data":{"name":"C2"},"width":345,"height":141,
 "mark":{"type":"circle","size":50,"opacity":1},
 "encoding":{
  "x":{"field":"x","type":"quantitative","scale":{"domain":[-4.21,6.15],"nice":false,"zero":false},"axis":{"values":[-4.21,0,6.15],"title":null,"labelExpr":"datum.value < 0 ? '-' : (datum.value > 0 ? '+' : '0')","gridOpacity":{"condition":{"test":"datum.value === 0","value":1},"value":0},"tickOpacity":{"condition":{"test":"datum.value === 0","value":1},"value":0}}},
  "y":{"field":"y","type":"quantitative","scale":{"domain":[-0.61,3.63],"nice":false,"zero":false},"axis":{"values":[-0.61,0,3.63],"title":null,"labelExpr":"datum.value < 0 ? '-' : (datum.value > 0 ? '+' : '0')","gridOpacity":{"condition":{"test":"datum.value === 0","value":1},"value":0},"tickOpacity":{"condition":{"test":"datum.value === 0","value":1},"value":0}}},
  "color":{"field":"g","type":"nominal","scale":{"domain":["G","S"],"range":["#ff0000","#0000ff"]}}
 }},
{"data":{"name":"C3"},"width":345,"height":141,
 "mark":{"type":"circle","size":50,"opacity":1},
 "encoding":{
  "x":{"field":"x","type":"quantitative","scale":{"domain":[-4.92,5.41],"nice":false,"zero":false},"axis":{"values":[-4.92,0,5.41],"title":null,"labelExpr":"datum.value < 0 ? '-' : (datum.value > 0 ? '+' : '0')","gridOpacity":{"condition":{"test":"datum.value === 0","value":1},"value":0},"tickOpacity":{"condition":{"test":"datum.value === 0","value":1},"value":0}}},
  "y":{"field":"y","type":"quantitative","scale":{"domain":[-0.67,3.57],"nice":false,"zero":false},"axis":{"values":[-0.67,0,3.57],"title":null,"labelExpr":"datum.value < 0 ? '-' : (datum.value > 0 ? '+' : '0')","gridOpacity":{"condition":{"test":"datum.value === 0","value":1},"value":0},"tickOpacity":{"condition":{"test":"datum.value === 0","value":1},"value":0}}},
  "color":{"field":"g","type":"nominal","scale":{"domain":["G","S"],"range":["#ff0000","#0000ff"]}}
 }},
{"data":{"name":"D1"},"width":345,"height":141,
 "mark":{"type":"circle","size":50,"opacity":1},
 "encoding":{
  "x":{"field":"x","type":"quantitative","scale":{"domain":[-3.38,6.98],"nice":false,"zero":false},"axis":{"values":[-3.38,0,6.98],"title":"Horseshoe Effect","titleX":143,"labelExpr":"datum.value < 0 ? '-' : (datum.value > 0 ? '+' : '0')","gridOpacity":{"condition":{"test":"datum.value === 0","value":1},"value":0},"tickOpacity":{"condition":{"test":"datum.value === 0","value":1},"value":0}}},
  "y":{"field":"y","type":"quantitative","scale":{"domain":[-0.80,3.42],"nice":false,"zero":false},"axis":{"values":[-0.80,0,3.42],"title":"∆ BL","labelExpr":"datum.value < 0 ? '-' : (datum.value > 0 ? '+' : '0')","gridOpacity":{"condition":{"test":"datum.value === 0","value":1},"value":0},"tickOpacity":{"condition":{"test":"datum.value === 0","value":1},"value":0}}},
  "color":{"field":"g","type":"nominal","scale":{"domain":["G","S"],"range":["#ff0000","#0000ff"]}}
 }},
{"data":{"name":"D2"},"width":345,"height":141,
 "mark":{"type":"circle","size":50,"opacity":1},
 "encoding":{
  "x":{"field":"x","type":"quantitative","scale":{"domain":[-4.21,6.15],"nice":false,"zero":false},"axis":{"values":[-4.21,0,6.15],"title":"Horseshoe Effect","titleX":170,"labelExpr":"datum.value < 0 ? '-' : (datum.value > 0 ? '+' : '0')","gridOpacity":{"condition":{"test":"datum.value === 0","value":1},"value":0},"tickOpacity":{"condition":{"test":"datum.value === 0","value":1},"value":0}}},
  "y":{"field":"y","type":"quantitative","scale":{"domain":[-0.58,3.64],"nice":false,"zero":false},"axis":{"values":[-0.58,0,3.64],"title":null,"labelExpr":"datum.value < 0 ? '-' : (datum.value > 0 ? '+' : '0')","gridOpacity":{"condition":{"test":"datum.value === 0","value":1},"value":0},"tickOpacity":{"condition":{"test":"datum.value === 0","value":1},"value":0}}},
  "color":{"field":"g","type":"nominal","scale":{"domain":["G","S"],"range":["#ff0000","#0000ff"]}}
 }},
{"data":{"name":"D3"},"width":345,"height":141,
 "mark":{"type":"circle","size":50,"opacity":1},
 "encoding":{
  "x":{"field":"x","type":"quantitative","scale":{"domain":[-4.92,5.41],"nice":false,"zero":false},"axis":{"values":[-4.92,0,5.41],"title":"Horseshoe Effect","titleX":180,"labelExpr":"datum.value < 0 ? '-' : (datum.value > 0 ? '+' : '0')","gridOpacity":{"condition":{"test":"datum.value === 0","value":1},"value":0},"tickOpacity":{"condition":{"test":"datum.value === 0","value":1},"value":0}}},
  "y":{"field":"y","type":"quantitative","scale":{"domain":[-0.63,3.59],"nice":false,"zero":false},"axis":{"values":[-0.63,0,3.59],"title":null,"labelExpr":"datum.value < 0 ? '-' : (datum.value > 0 ? '+' : '0')","gridOpacity":{"condition":{"test":"datum.value === 0","value":1},"value":0},"tickOpacity":{"condition":{"test":"datum.value === 0","value":1},"value":0}}},
  "color":{"field":"g","type":"nominal","scale":{"domain":["G","S"],"range":["#ff0000","#0000ff"]}}
 }}
],
"config": {
 "font": "Liberation Sans",
 "view": {"stroke": "#333", "strokeWidth": 1},
 "title": {"fontSize": 19, "fontWeight": "bold", "color": "#000", "frame": "group", "baseline": "alphabetic", "offset": 18, "anchor": "middle"},
 "axis": {"domain": false, "labelFontSize": 12, "labelColor": "#000", "labelFlush": false, "labelOverlap": false, "grid": true, "gridColor": "#444", "gridDash": [1, 2], "ticks": true, "tickSize": -5, "tickColor": "#333", "titleFontSize": 20, "titleFontWeight": "normal", "titleColor": "#000"},
 "axisX": {"labelPadding": 15, "labelDx": -3, "titleY": 43, "titleAlign": "center", "titleBaseline": "alphabetic"},
 "axisY": {"labelPadding": 11, "labelBaseline": "middle", "titleAngle": 0, "titleAlign": "left", "titleBaseline": "middle", "titleX": -68, "titleY": 68, "titleFontSize": 19}
}
}
